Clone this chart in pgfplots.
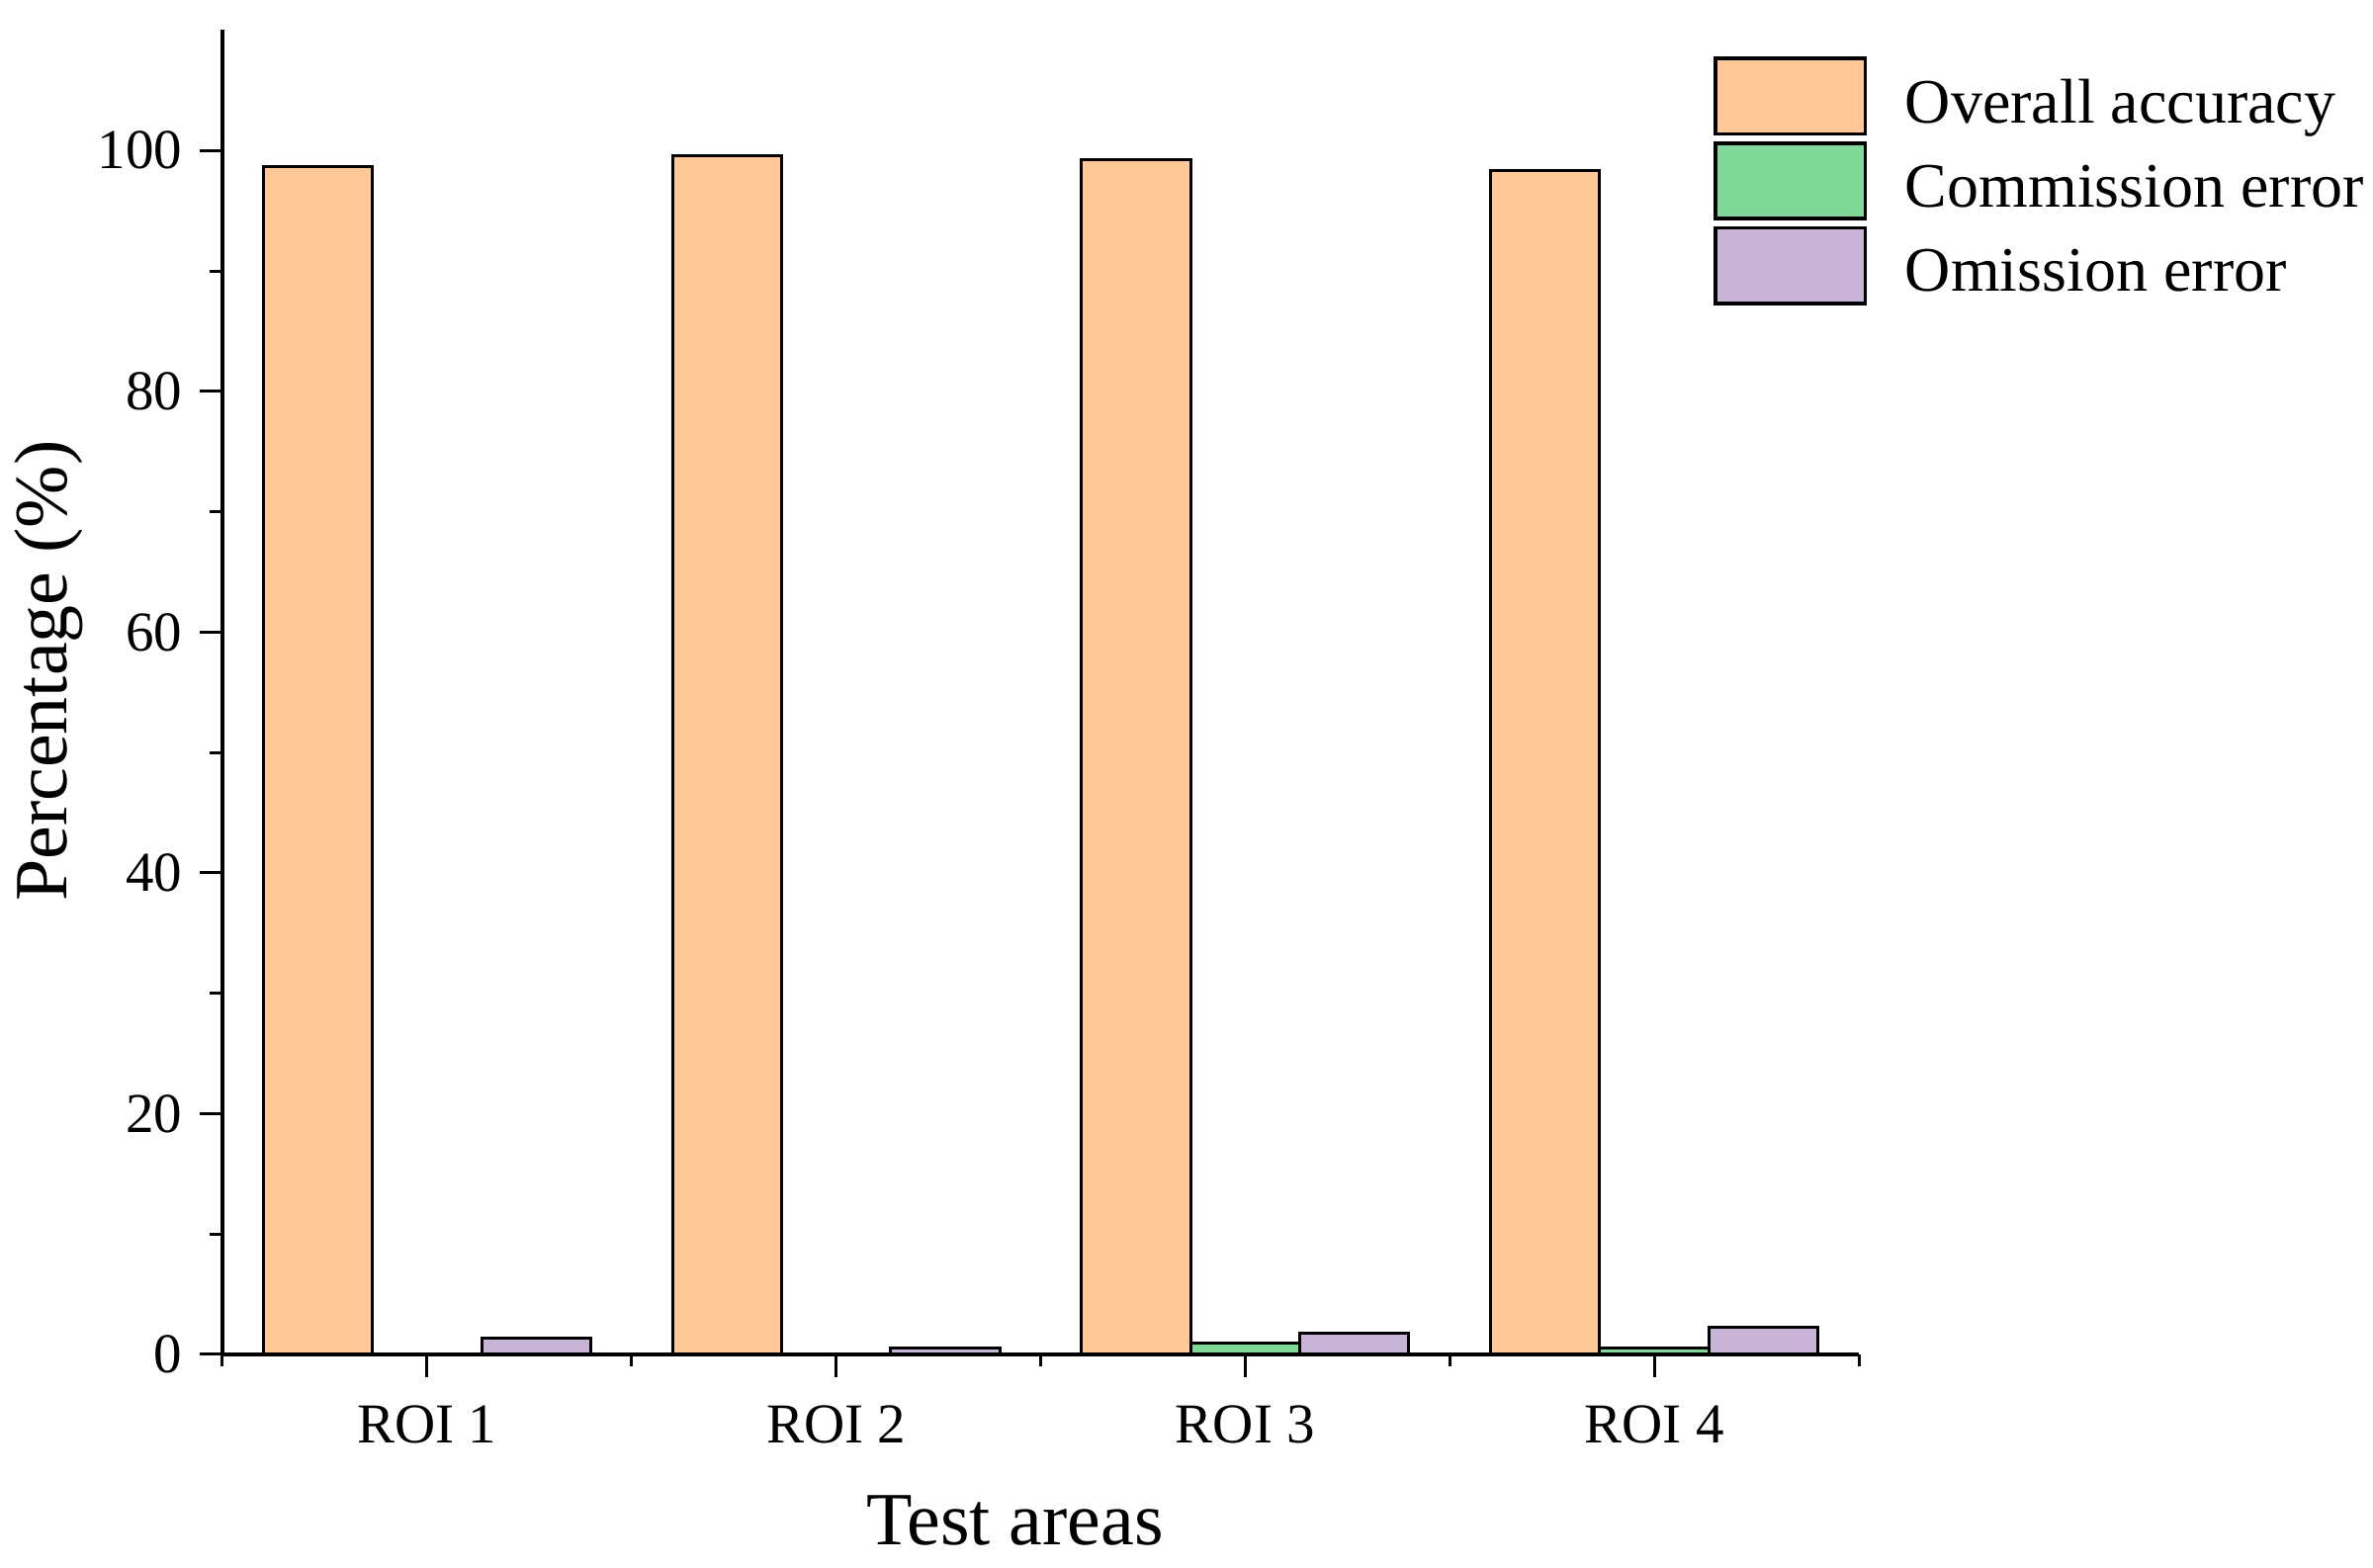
\documentclass[border=0pt]{standalone}
\usepackage{fontspec}
\setmainfont{Liberation Serif}
\usepackage{pgfplots}
\pgfplotsset{compat=1.18}

\definecolor{oaCol}{RGB}{255,200,150}
\definecolor{ceCol}{RGB}{128,217,153}
\definecolor{oeCol}{RGB}{200,180,215}

% legend entries sit slightly below the patch centre
\newcommand{\legtext}[1]{\raisebox{-3.5pt}{#1}}

\begin{document}
\begin{tikzpicture}
\begin{axis}[
  name=ax,
  scale only axis,
  width=331pt, height=267.9pt,
  xmin=0.5, xmax=4.5,
  ymin=0, ymax=110,
  axis x line*=bottom,
  axis y line*=left,
  axis line style={line width=0.75pt},
  every tick/.style={line width=0.6pt, black},
  tick align=outside,
  xtick={1,2,3,4},
  xticklabels={ROI 1, ROI 2, ROI 3, ROI 4},
  minor xtick={0.5,1.5,2.5,3.5,4.5},
  ytick={0,20,40,60,80,100},
  minor ytick={10,30,50,70,90},
  major tick length=4.6pt,
  minor tick length=2.5pt,
  tick label style={font=\fontsize{11.4}{13}\selectfont},
  xticklabel style={yshift=-2.2pt},
  /pgf/number format/assume math mode=true,
  xlabel={Test areas},
  ylabel={Percentage (\%)},
  label style={font=\fontsize{15.2}{18}\selectfont},
  x label style={at={([xshift=-5.2pt,yshift=-28.3pt]axis description cs:0.5,0)}, anchor=north, inner sep=0pt},
  y label style={at={([xshift=-28pt]axis description cs:0,0.516)}, anchor=south, inner sep=0pt},
  ybar,
  bar width=0.2667,
  every axis plot/.append style={line width=0.6pt, draw=black},
  legend image code/.code={%
    \draw[#1, line width=0.75pt] (0pt,-7.65pt) rectangle (30.3pt,7.65pt);
    \path (34pt,0pt);},
  legend style={
    at={(0.9106,0.9808)}, anchor=north west,
    draw=none, fill=none, inner sep=0pt,
    font=\fontsize{12.8}{15}\selectfont,
    nodes={inner ysep=0.85pt, inner xsep=4.1pt},
    cells={anchor=west},
    row sep=1.1pt,
  },
]
\addplot[fill=oaCol, bar shift=-0.2667] coordinates {(1,98.7) (2,99.6) (3,99.2) (4,98.3)};
\addlegendentry{\legtext{Overall accuracy}}
\addplot[fill=ceCol, bar shift=0] coordinates {(1,0) (2,0) (3,0.95) (4,0.55)};
\addlegendentry{\legtext{Commission error}}
\addplot[fill=oeCol, bar shift=0.2667] coordinates {(1,1.37) (2,0.55) (3,1.8) (4,2.28)};
\addlegendentry{\legtext{Omission error}}
\end{axis}
\pgfresetboundingbox
\path[use as bounding box] ([xshift=-45pt,yshift=-43.2pt]ax.south west) rectangle ([xshift=435pt,yshift=274pt]ax.south west);
\end{tikzpicture}
\end{document}
